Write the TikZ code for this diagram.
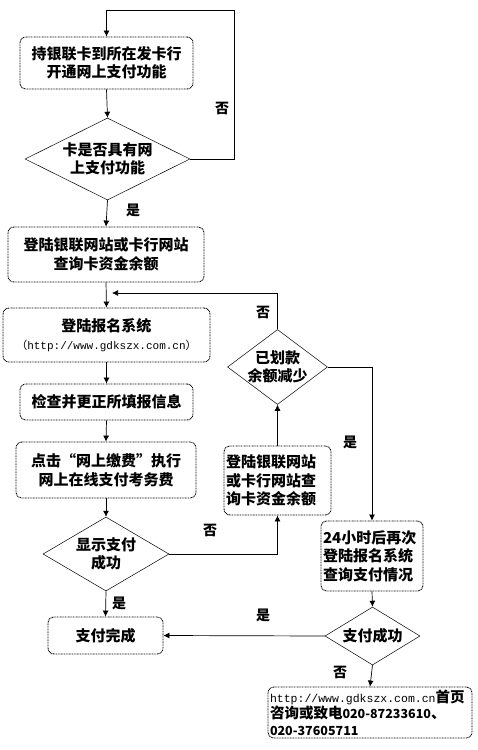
\documentclass[tikz,border=0pt]{standalone}
\usepackage{fontspec}
\setmainfont{Noto Sans CJK SC}
\newfontfamily\monofnt{Liberation Mono}
\usetikzlibrary{shapes.geometric,arrows.meta}
\begin{document}
\begin{tikzpicture}[x=1pt,y=-1pt,
  cjk/.style={font=\fontsize{15}{18.5}\selectfont\bfseries},
  box/.style={draw, dash pattern=on 0.9pt off 0.7pt, line width=0.9pt, rounded corners=6pt, align=center, inner sep=0pt, cjk},
  lbox/.style={box, align=left, inner xsep=2pt},
  dia/.style={draw, diamond, inner sep=0pt, line width=0.5pt},
  txt/.style={align=center, inner sep=0pt, cjk},
  lbl/.style={inner sep=0pt, font=\fontsize{14}{16}\selectfont\bfseries},
  conn/.style={draw, line width=0.7pt},
  arr/.style={conn, -{Latex[length=6pt,width=6pt]}}
]
\useasboundingbox[fill=white] (0,0) rectangle (478,750);

% left column
\node[box, minimum width=173, minimum height=52] (b1) at (106.5,63) {持银联卡到所在发卡行\\开通网上支付功能};
\node[dia, minimum width=165, minimum height=82] (d1) at (107.5,159) {};
\node[txt] (t1) at (d1.center) {卡是否具有网\\上支付功能};
\node[box, minimum width=196, minimum height=55] (b3) at (106,254.5) {登陆银联网站或卡行网站\\查询卡资金余额};
\node[box, minimum width=207, minimum height=54] (b4) at (106.5,335) {登陆报名系统\\[-1pt]{\fontsize{11}{13}\selectfont\mdseries （\monofnt http://www.gdkszx.com.cn\rmfamily ）}};
\node[box, minimum width=173, minimum height=36] (b5) at (106.5,402) {检查并更正所填报信息};
\node[box, minimum width=180, minimum height=56] (b6) at (106,470) {点击“网上缴费”执行\\网上在线支付考务费};
\node[dia, minimum width=126, minimum height=74] (d2) at (106,554) {};
\node[txt] (t2) at (d2.center) {显示支付\\成功};
\node[box, minimum width=115, minimum height=37] (b8) at (105.5,635.5) {支付完成};

% right column
\node[dia, minimum width=100, minimum height=75] (d3) at (277.5,367) {};
\node[txt] (t3) at (d3.center) {已划款\\余额减少};
\node[lbox, text width=103, minimum height=69] (b7) at (277.5,480.5) {登陆银联网站\\或卡行网站查\\询卡资金余额};
\node[lbox, text width=98, minimum height=70] (b9) at (372,556) {24小时后再次\\登陆报名系统\\查询支付情况};
\node[dia, minimum width=95, minimum height=58] (d4) at (372.5,636) {};
\node[txt] (t4) at (d4.center) {支付成功};
\node[lbox, text width=200, minimum height=51, font=\fontsize{14.5}{16.5}\selectfont\bfseries] (b10) at (370,712.5)
  {{\monofnt\mdseries\fontsize{11.5}{13}\selectfont http://www.gdkszx.com.cn}首页\\咨询或致电{\fontsize{12.5}{14}\selectfont 020-87233610}、\\{\fontsize{12.5}{14}\selectfont 020-37605711}};

% coordinates
\coordinate (loop) at (234,10);
\coordinate (join) at (112,293);

% connectors
\draw[conn] (d1.east) -| (loop);
\draw[arr] (loop) -| (b1.north);
\draw[arr] (b1.south) -- (d1.north);
\draw[arr] (d1.south) -- (b3.north);
\draw[arr] (b3.south) -- (b4.north);
\draw[arr] (b4.south) -- (b5.north);
\draw[arr] (b5.south) -- (b6.north);
\draw[arr] (b6.south) -- (d2.north);
\draw[arr] (d2.south) -- (b8.north);
\draw[arr] (d2.east) -| (b7.south);
\draw[arr] (b7.north) -- (d3.south);
\draw[arr] (d3.north) |- (join);
\draw[arr] (d3.east) -| (b9.north);
\draw[arr] (b9.south) -- (d4.north);
\draw[arr] (d4.west) -- (b8.east);
\draw[arr] (d4.south) -- (b10.north);

% labels
\node[lbl] (l1) at (222,108) {否};
\node[lbl] (l2) at (133,210) {是};
\node[lbl] (l3) at (263,312) {否};
\node[lbl] (l4) at (350,442) {是};
\node[lbl] (l5) at (210,530) {否};
\node[lbl] (l6) at (119,603) {是};
\node[lbl] (l7) at (263,615) {是};
\node[lbl] (l8) at (340,672) {否};
\end{tikzpicture}
\end{document}
